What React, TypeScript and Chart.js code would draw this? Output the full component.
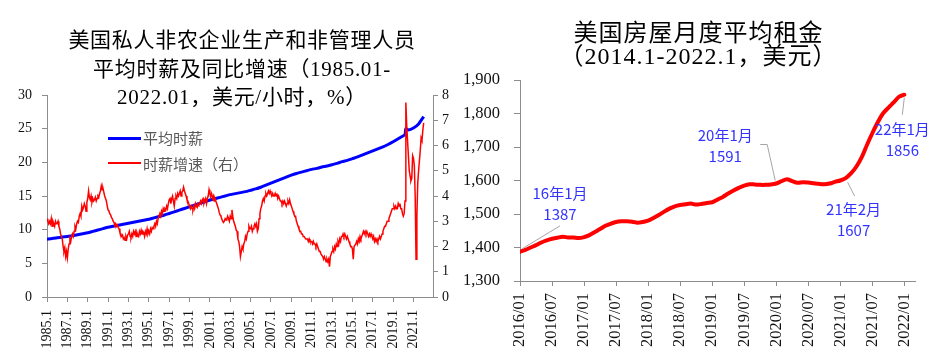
import React, { useEffect, useRef } from 'react';
import { Chart, registerables } from 'chart.js';

Chart.register(...registerables);

// ---------------- Left chart data ----------------
// Year-over-year growth of average hourly earnings (%), monthly 1985.01 - 2022.01 (right axis)
const wageGrowth: number[] = [
  3.1, 3.0, 2.9, 3.0, 2.9, 3.1, 2.8, 3.0, 2.9, 2.8, 3.0, 2.9, // 1985
  2.9, 3.0, 2.8, 2.7, 2.5, 2.4, 2.3, 2.0, 1.8, 1.95, 1.6, 1.8, // 1986
  1.55, 1.9, 2.1, 2.3, 2.2, 2.4, 2.5, 2.4, 2.6, 2.8, 2.7, 2.9, // 1987
  3.0, 2.95, 3.2, 3.3, 3.2, 3.6, 3.45, 3.55, 3.7, 3.6, 3.4, 3.75, // 1988
  3.9, 4.2, 3.95, 3.85, 4.0, 3.75, 3.9, 3.8, 3.85, 3.95, 3.8, 3.9, // 1989
  4.0, 3.95, 4.1, 4.2, 4.4, 4.25, 4.3, 4.15, 4.0, 3.9, 3.8, 3.6, // 1990
  3.45, 3.4, 3.3, 3.25, 3.15, 3.1, 3.0, 2.95, 2.85, 2.9, 2.8, 2.85, // 1991
  2.75, 2.7, 2.55, 2.5, 2.4, 2.45, 2.3, 2.35, 2.25, 2.4, 2.3, 2.45, // 1992
  2.5, 2.6, 2.4, 2.35, 2.5, 2.4, 2.6, 2.5, 2.6, 2.4, 2.55, 2.45, // 1993
  2.4, 2.6, 2.5, 2.65, 2.5, 2.6, 2.55, 2.4, 2.6, 2.5, 2.7, 2.5, // 1994
  2.6, 2.5, 2.7, 2.6, 2.75, 2.7, 2.8, 2.9, 2.8, 3.0, 2.9, 3.1, // 1995
  3.1, 3.3, 3.2, 3.4, 3.3, 3.5, 3.4, 3.5, 3.45, 3.6, 3.5, 3.7, // 1996
  3.85, 3.9, 3.7, 3.9, 4.0, 3.8, 3.6, 3.9, 4.0, 3.9, 4.1, 4.0, // 1997
  4.1, 4.2, 4.0, 4.15, 4.2, 4.35, 4.2, 4.1, 4.0, 3.85, 3.8, 3.7, // 1998
  3.6, 3.5, 3.6, 3.5, 3.45, 3.6, 3.5, 3.7, 3.6, 3.55, 3.7, 3.65, // 1999
  3.7, 3.8, 3.7, 3.85, 3.9, 3.7, 3.8, 3.9, 3.7, 3.9, 4.0, 4.25, // 2000
  4.1, 4.0, 4.1, 3.9, 4.0, 3.8, 3.9, 3.8, 3.7, 3.6, 3.5, 3.35, // 2001
  3.25, 3.2, 3.1, 3.0, 2.95, 3.0, 3.1, 3.05, 3.1, 3.2, 3.1, 3.0, // 2002
  3.2, 3.1, 3.45, 3.2, 3.0, 2.9, 2.8, 2.65, 2.6, 2.3, 2.2, 2.0, // 2003
  1.6, 1.8, 2.0, 1.9, 2.1, 2.2, 2.4, 2.3, 2.5, 2.6, 2.8, 2.7, // 2004
  2.7, 2.8, 2.6, 2.7, 2.8, 2.9, 2.8, 2.9, 2.6, 2.7, 3.1, 3.3, // 2005
  3.5, 3.6, 3.8, 3.9, 3.8, 4.0, 4.1, 4.0, 4.1, 4.2, 4.1, 4.2, // 2006
  4.1, 4.0, 4.1, 4.0, 4.0, 4.1, 4.0, 4.1, 3.9, 4.0, 3.9, 3.8, // 2007
  3.8, 3.7, 3.8, 3.7, 3.8, 3.7, 3.6, 3.7, 3.8, 3.7, 3.85, 3.7, // 2008
  3.6, 3.5, 3.4, 3.3, 3.2, 3.2, 3.0, 2.9, 2.8, 2.7, 2.6, 2.6, // 2009
  2.5, 2.5, 2.4, 2.4, 2.4, 2.3, 2.3, 2.3, 2.2, 2.3, 2.2, 2.2, // 2010
  2.2, 2.1, 2.2, 2.1, 2.1, 2.0, 2.1, 2.0, 1.9, 1.8, 1.8, 1.7, // 2011
  1.7, 1.6, 1.5, 1.6, 1.5, 1.4, 1.5, 1.4, 1.5, 1.2, 1.6, 1.7, // 2012
  1.8, 1.9, 1.8, 2.0, 1.9, 2.1, 2.0, 2.2, 2.1, 2.3, 2.2, 2.4, // 2013
  2.4, 2.5, 2.4, 2.5, 2.4, 2.3, 2.4, 2.3, 2.2, 2.1, 2.0, 2.0, // 2014
  1.9, 1.5, 2.0, 2.0, 2.1, 2.2, 2.1, 2.3, 2.2, 2.4, 2.3, 2.4, // 2015
  2.5, 2.6, 2.5, 2.6, 2.5, 2.6, 2.5, 2.4, 2.5, 2.4, 2.5, 2.4, // 2016
  2.3, 2.4, 2.2, 2.3, 2.2, 2.3, 2.2, 2.3, 2.4, 2.3, 2.4, 2.5, // 2017
  2.6, 2.7, 2.8, 2.8, 2.9, 3.0, 3.0, 3.1, 3.2, 3.3, 3.4, 3.5, // 2018
  3.5, 3.6, 3.5, 3.6, 3.5, 3.5, 3.7, 3.6, 3.7, 3.5, 3.5, 3.3, // 2019
  3.2, 3.3, 3.8, 7.7, 6.8, 6.2, 5.6, 5.0, 4.8, 4.6, 4.7, 5.6, // 2020
  5.5, 5.2, 4.0, 1.5, 3.2, 4.5, 5.0, 5.4, 5.8, 6.3, 6.2, 6.6, // 2021
  6.9, // 2022
];

// Average hourly wage (USD/hour), observations by month index since 1985.01 (left axis)
const wageMonths: number[] = [
  0, 6, 12, 18, 24, 30, 36, 42, 48, 54, 60, 66, 72, 78, 84, 90, 96, 102, 108, 114,
  120, 126, 132, 138, 144, 150, 156, 162, 168, 174, 180, 186, 192, 198, 204, 210,
  216, 222, 228, 234, 240, 246, 252, 258, 264, 270, 276, 282, 288, 294, 300, 306,
  312, 318, 324, 330, 336, 342, 348, 354, 360, 366, 372, 378, 384, 390, 396, 402,
  408, 414, 420, 422, 423, 426, 432, 438, 444,
];
const wageValues: number[] = [
  8.57, 8.7, 8.8, 8.9, 9.0, 9.1, 9.25, 9.4, 9.55, 9.75, 9.95, 10.15, 10.35, 10.5, 10.65, 10.8, 10.95, 11.1, 11.25, 11.4,
  11.55, 11.75, 11.95, 12.15, 12.4, 12.65, 12.9, 13.15, 13.4, 13.65, 13.9, 14.15, 14.4, 14.6, 14.8, 15.0,
  15.2, 15.35, 15.5, 15.65, 15.85, 16.05, 16.3, 16.6, 16.9, 17.2, 17.5, 17.8, 18.1, 18.35, 18.55, 18.75,
  18.95, 19.1, 19.3, 19.45, 19.65, 19.85, 20.1, 20.3, 20.55, 20.8, 21.1, 21.4, 21.7, 22.0, 22.3, 22.65,
  23.05, 23.5, 23.95, 24.1, 25.0, 24.8, 25.1, 25.7, 26.8,
];

const wageTickLabels: string[] = [
  '1985.1', '1987.1', '1989.1', '1991.1', '1993.1', '1995.1', '1997.1', '1999.1', '2001.1', '2003.1',
  '2005.1', '2007.1', '2009.1', '2011.1', '2013.1', '2015.1', '2017.1', '2019.1', '2021.1',
];
const wageTickStep = 24; // months between labelled ticks
const wageAxisMaxMonth = 455;
const wageLegend = ['平均时薪', '时薪增速（右）'];
const leftTitle = ['美国私人非农企业生产和非管理人员', '平均时薪及同比增速（1985.01-', '2022.01，美元/小时，%）'];

// ---------------- Right chart data ----------------
// Average monthly rent (USD), monthly 2016/01 - 2022/01
const rentValues: number[] = [
  1387, 1393, 1400, 1407, 1415, 1421, 1426, 1429, 1432, 1430, 1430, 1428, // 2016
  1431, 1437, 1446, 1455, 1465, 1471, 1476, 1478, 1478, 1477, 1474, 1476, // 2017
  1480, 1488, 1497, 1507, 1516, 1523, 1527, 1529, 1531, 1528, 1530, 1533, // 2018
  1535, 1543, 1551, 1561, 1570, 1578, 1585, 1589, 1588, 1587, 1587, 1588, // 2019
  1591, 1598, 1604, 1598, 1593, 1595, 1594, 1592, 1590, 1589, 1591, 1596, // 2020
  1600, 1607, 1621, 1641, 1669, 1706, 1741, 1773, 1800, 1817, 1833, 1850, // 2021
  1856, // 2022
];
const rentTickLabels: string[] = [
  '2016/01', '2016/07', '2017/01', '2017/07', '2018/01', '2018/07', '2019/01',
  '2019/07', '2020/01', '2020/07', '2021/01', '2021/07', '2022/01',
];
const rentTickStep = 6;
const rentAxisMaxMonth = 74;
const rentAnnoMonths = [0, 48, 61, 72];
const rentAnnoLabels = ['16年1月', '20年1月', '21年2月', '22年1月'];
const rightTitle = ['美国房屋月度平均租金', '（2014.1-2022.1，美元）'];

// ---------------- styles ----------------
const AXIS_COLOR = '#8c8c8c';
const TICK_FONT = '"Liberation Serif", "Times New Roman", serif';
const TITLE_FONT = '"Liberation Serif", "Noto Sans CJK SC", serif';

const annoLayout = [
  { tx: 40, ty1: -59, ty2: -38, leader: [[2, -3], [40, -26]] },
  { tx: -51, ty1: -48, ty2: -27, leader: [[-1, -3], [-9, -39], [-16, -39]] },
  { tx: 8, ty1: 31, ty2: 52, leader: [[2, 4], [9, 18]] },
  { tx: -2, ty1: 35, ty2: 56, leader: [[0, 3], [-2, 20]] },
];

const rentAnnotationPlugin = {
  id: 'rentAnnotations',
  afterDatasetsDraw(chart: any) {
    const { ctx } = chart;
    const x = chart.scales.x;
    const y = chart.scales.y;
    rentAnnoMonths.forEach((m, k) => {
      const px = x.getPixelForValue(m);
      const py = y.getPixelForValue(rentValues[m]);
      const lay = annoLayout[k];
      ctx.save();
      ctx.strokeStyle = '#a6a6a6';
      ctx.lineWidth = 1;
      ctx.beginPath();
      lay.leader.forEach(([dx, dy], i) => {
        if (i === 0) ctx.moveTo(px + dx, py + dy);
        else ctx.lineTo(px + dx, py + dy);
      });
      ctx.stroke();
      ctx.fillStyle = '#3333ff';
      ctx.font = '15px "Noto Sans CJK SC", "Noto Sans", sans-serif';
      ctx.textAlign = 'center';
      ctx.textBaseline = 'middle';
      ctx.fillText(rentAnnoLabels[k], px + lay.tx, py + lay.ty1);
      ctx.fillText(String(rentValues[m]), px + lay.tx, py + lay.ty2);
      ctx.restore();
    });
  },
};

export default function App() {
  const leftRef = useRef<HTMLCanvasElement | null>(null);
  const rightRef = useRef<HTMLCanvasElement | null>(null);

  useEffect(() => {
    if (!leftRef.current || !rightRef.current) return;

    const left = new Chart(leftRef.current, {
      type: 'line',
      data: {
        datasets: [
          {
            label: wageLegend[0],
            data: wageMonths.map((m, i) => ({ x: m, y: wageValues[i] })),
            borderColor: '#0000ff',
            borderWidth: 3,
            pointRadius: 0,
            tension: 0.2,
            yAxisID: 'y',
            order: 2,
          },
          {
            label: wageLegend[1],
            data: wageGrowth.map((v, i) => ({ x: i, y: v })),
            borderColor: '#ff0000',
            borderWidth: 1.5,
            pointRadius: 0,
            tension: 0,
            yAxisID: 'y1',
            order: 1,
          },
        ],
      },
      options: {
        responsive: false,
        animation: false,
        devicePixelRatio: 1,
        layout: { padding: { top: 95, left: 0, right: 0, bottom: 0 } },
        plugins: { legend: { display: false }, title: { display: false }, tooltip: { enabled: false } },
        scales: {
          x: {
            type: 'linear',
            min: 0,
            max: wageAxisMaxMonth,
            afterBuildTicks: (scale: any) => {
              scale.ticks = wageTickLabels.map((_, i) => ({ value: i * wageTickStep }));
            },
            afterFit: (scale: any) => { scale.height = 65; },
            ticks: {
              autoSkip: false,
              maxRotation: 90,
              minRotation: 90,
              padding: 8,
              color: '#111',
              font: { family: TICK_FONT, size: 14 },
              callback: (_v: any, index: number) => wageTickLabels[index],
            },
            grid: { drawOnChartArea: false, drawTicks: true, tickLength: 5, color: AXIS_COLOR },
            border: { display: true, color: AXIS_COLOR, width: 1 },
          },
          y: {
            position: 'left',
            min: 0,
            max: 30,
            afterFit: (scale: any) => { scale.width = 47; },
            ticks: { stepSize: 5, padding: 10, color: '#111', font: { family: TICK_FONT, size: 14 } },
            grid: { drawOnChartArea: false, drawTicks: true, tickLength: 5, color: AXIS_COLOR },
            border: { display: true, color: AXIS_COLOR, width: 1 },
          },
          y1: {
            position: 'right',
            min: 0,
            max: 8,
            afterFit: (scale: any) => { scale.width = 27; },
            ticks: { stepSize: 1, padding: 4, color: '#111', font: { family: TICK_FONT, size: 14 } },
            grid: { drawOnChartArea: false, drawTicks: true, tickLength: 5, color: AXIS_COLOR },
            border: { display: true, color: AXIS_COLOR, width: 1 },
          },
        },
      },
    } as any);

    const right = new Chart(rightRef.current, {
      type: 'line',
      data: {
        datasets: [
          {
            label: '平均租金',
            data: rentValues.map((v, i) => ({ x: i, y: v })),
            borderColor: '#ff0000',
            borderWidth: 4,
            pointRadius: 0,
            tension: 0.3,
            borderCapStyle: 'round',
            borderJoinStyle: 'round',
          },
        ],
      },
      options: {
        responsive: false,
        animation: false,
        devicePixelRatio: 1,
        layout: { padding: { top: 80, left: 0, right: 22, bottom: 0 } },
        plugins: { legend: { display: false }, title: { display: false }, tooltip: { enabled: false } },
        scales: {
          x: {
            type: 'linear',
            min: 0,
            max: rentAxisMaxMonth,
            afterBuildTicks: (scale: any) => {
              scale.ticks = rentTickLabels.map((_, i) => ({ value: i * rentTickStep }));
            },
            afterFit: (scale: any) => { scale.height = 81; },
            ticks: {
              autoSkip: false,
              maxRotation: 90,
              minRotation: 90,
              padding: 7,
              color: '#111',
              font: { family: TICK_FONT, size: 16.5 },
              callback: (_v: any, index: number) => rentTickLabels[index],
            },
            grid: { drawOnChartArea: false, drawTicks: true, tickLength: 5, color: AXIS_COLOR },
            border: { display: true, color: AXIS_COLOR, width: 1 },
          },
          y: {
            position: 'left',
            min: 1300,
            max: 1900,
            afterFit: (scale: any) => { scale.width = 60; },
            ticks: {
              stepSize: 100,
              padding: 14,
              color: '#111',
              font: { family: TICK_FONT, size: 16.5 },
              callback: (v: any) => Number(v).toLocaleString('en-US'),
            },
            grid: { drawOnChartArea: false, drawTicks: true, tickLength: 6, color: AXIS_COLOR },
            border: { display: true, color: AXIS_COLOR, width: 1 },
          },
        },
      },
      plugins: [rentAnnotationPlugin],
    } as any);

    return () => {
      left.destroy();
      right.destroy();
    };
  }, []);

  const lineStyle: React.CSSProperties = { whiteSpace: 'nowrap' };

  return (
    <div style={{ position: 'absolute', left: 0, top: 0, width: 937, height: 362, background: '#fff', overflow: 'hidden' }}>
      <canvas ref={leftRef} width={460} height={362} style={{ position: 'absolute', left: 0, top: 0 }} />
      <canvas ref={rightRef} width={477} height={362} style={{ position: 'absolute', left: 460, top: 0 }} />

      <div
        style={{
          position: 'absolute', left: 0, top: 26, width: 484, textAlign: 'center',
          fontFamily: TITLE_FONT, fontSize: 21, lineHeight: '28.5px', color: '#000', letterSpacing: '0.7px',
        }}
      >
        {leftTitle.map((t) => (<div key={t} style={lineStyle}>{t}</div>))}
      </div>

      <div
        style={{
          position: 'absolute', left: 460, top: 22, width: 477, textAlign: 'center',
          fontFamily: TITLE_FONT, fontSize: 24, lineHeight: '23px', color: '#000', letterSpacing: '1px',
        }}
      >
        {rightTitle.map((t) => (<div key={t} style={lineStyle}>{t}</div>))}
      </div>

      <div style={{ position: 'absolute', left: 108, top: 136.5, width: 33, height: 3, background: '#0000ff' }} />
      <div
        style={{
          position: 'absolute', left: 143, top: 128, height: 20, lineHeight: '20px',
          fontFamily: '"Noto Sans CJK SC", sans-serif', fontSize: 15, color: '#595959', whiteSpace: 'nowrap',
        }}
      >
        {wageLegend[0]}
      </div>
      <div style={{ position: 'absolute', left: 108, top: 162, width: 33, height: 2, background: '#ff0000' }} />
      <div
        style={{
          position: 'absolute', left: 143, top: 153.5, height: 20, lineHeight: '20px',
          fontFamily: '"Noto Sans CJK SC", sans-serif', fontSize: 15, color: '#595959', whiteSpace: 'nowrap',
        }}
      >
        {wageLegend[1]}
      </div>
    </div>
  );
}
